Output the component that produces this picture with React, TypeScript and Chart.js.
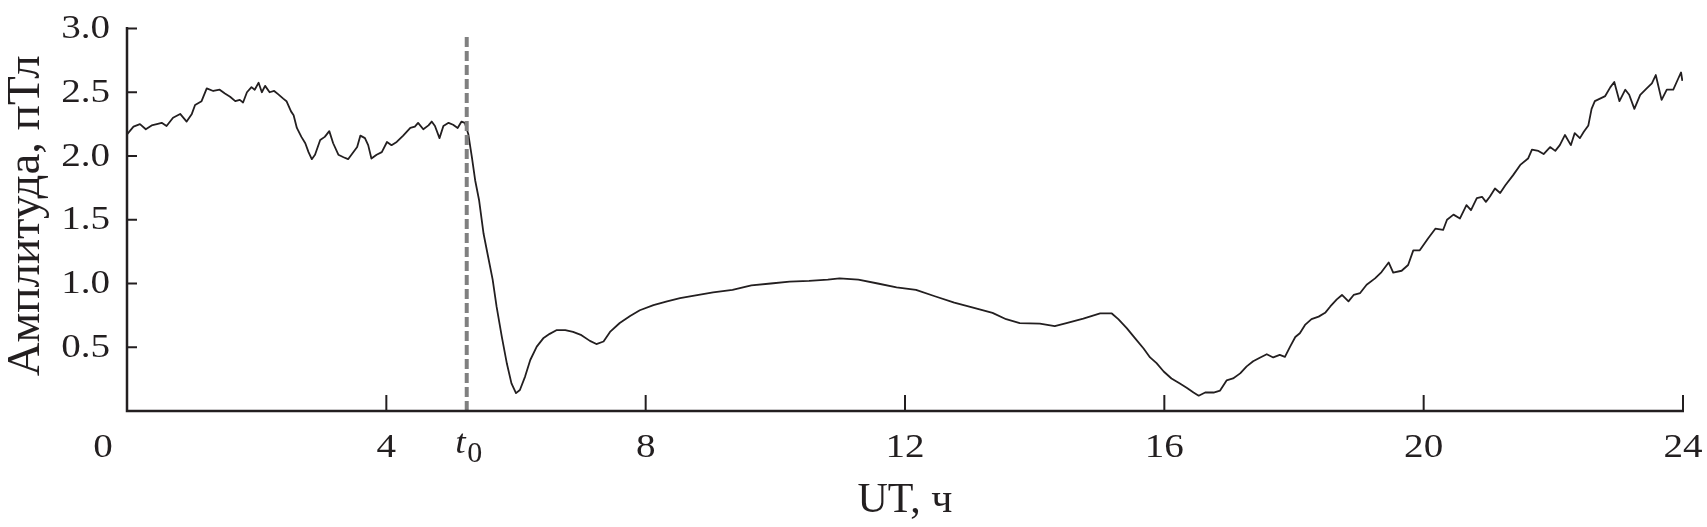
import React, { useEffect, useRef } from 'react';
import { Chart, registerables } from 'chart.js';

Chart.register(...registerables);

// ---- data ----
const hours = [
  0.0, 0.1, 0.2, 0.29, 0.38, 0.46, 0.535, 0.61, 0.71, 0.82, 0.92, 1.0, 1.05, 1.15, 1.23, 1.33, 1.43, 1.51, 1.59, 1.67,
  1.74, 1.79, 1.85, 1.92, 1.97, 2.03, 2.08, 2.13, 2.2, 2.27, 2.33, 2.41, 2.46, 2.53, 2.57, 2.62, 2.69, 2.75, 2.8, 2.85,
  2.9, 2.98, 3.05, 3.12, 3.18, 3.26, 3.34, 3.41, 3.49, 3.55, 3.6, 3.67, 3.72, 3.77, 3.85, 3.93, 4.01, 4.08, 4.16, 4.26,
  4.37, 4.44, 4.49, 4.57, 4.65, 4.7, 4.75, 4.82, 4.88, 4.96, 5.03, 5.1, 5.16, 5.21, 5.265, 5.32, 5.37, 5.43, 5.5, 5.57,
  5.64, 5.7, 5.78, 5.86, 5.93, 6.0, 6.06, 6.14, 6.22, 6.32, 6.42, 6.52, 6.63, 6.76, 6.88, 7.01, 7.14, 7.24, 7.35, 7.45,
  7.6, 7.76, 7.91, 8.12, 8.33, 8.53, 8.75, 9.04, 9.34, 9.63, 9.93, 10.22, 10.52, 10.81, 10.99, 11.28, 11.58, 11.87, 12.17, 12.46,
  12.76, 13.05, 13.35, 13.56, 13.77, 14.08, 14.31, 14.49, 14.75, 15.01, 15.19, 15.29, 15.42, 15.55, 15.68, 15.78, 15.88, 15.99, 16.11, 16.24,
  16.35, 16.45, 16.53, 16.63, 16.76, 16.86, 16.96, 17.06, 17.17, 17.27, 17.37, 17.48, 17.58, 17.68, 17.78, 17.86, 17.94, 18.02, 18.09, 18.17,
  18.27, 18.38, 18.48, 18.56, 18.66, 18.74, 18.84, 18.92, 19.02, 19.12, 19.25, 19.35, 19.46, 19.53, 19.66, 19.76, 19.84, 19.94, 20.07, 20.18,
  20.3, 20.36, 20.46, 20.56, 20.66, 20.73, 20.82, 20.9, 20.96, 21.02, 21.1, 21.18, 21.26, 21.38, 21.49, 21.61, 21.67, 21.77, 21.85, 21.95,
  22.03, 22.1, 22.18, 22.27, 22.33, 22.41, 22.47, 22.54, 22.59, 22.64, 22.72, 22.8, 22.88, 22.94, 23.02, 23.11, 23.17, 23.25, 23.34, 23.44,
  23.52, 23.58, 23.67, 23.75, 23.85, 23.92, 23.97, 23.99,
];

const amplitude = [
  2.17, 2.23, 2.25, 2.21, 2.24, 2.25, 2.26, 2.235, 2.3, 2.33, 2.27, 2.33, 2.4, 2.43, 2.53, 2.51, 2.52, 2.49, 2.465, 2.43,
  2.44, 2.42, 2.5, 2.54, 2.52, 2.575, 2.5, 2.55, 2.5, 2.51, 2.485, 2.45, 2.43, 2.35, 2.32, 2.22, 2.15, 2.1, 2.03, 1.975,
  2.01, 2.125, 2.15, 2.195, 2.1, 2.01, 1.99, 1.975, 2.03, 2.07, 2.16, 2.14, 2.085, 1.98, 2.01, 2.03, 2.11, 2.085, 2.11, 2.16,
  2.22, 2.23, 2.26, 2.21, 2.24, 2.27, 2.235, 2.14, 2.235, 2.26, 2.245, 2.22, 2.27, 2.26, 2.17, 1.99, 1.81, 1.655, 1.39, 1.21,
  1.03, 0.82, 0.585, 0.37, 0.217, 0.14, 0.165, 0.27, 0.4, 0.505, 0.57, 0.605, 0.635, 0.635, 0.62, 0.595, 0.55, 0.525, 0.545, 0.62,
  0.69, 0.745, 0.79, 0.83, 0.86, 0.885, 0.905, 0.93, 0.95, 0.985, 1.0, 1.015, 1.02, 1.03, 1.04, 1.03, 1.0, 0.97, 0.95, 0.9,
  0.85, 0.81, 0.77, 0.72, 0.69, 0.685, 0.665, 0.69, 0.725, 0.765, 0.765, 0.72, 0.65, 0.57, 0.49, 0.42, 0.375, 0.31, 0.255, 0.215,
  0.18, 0.145, 0.12, 0.145, 0.145, 0.16, 0.24, 0.255, 0.295, 0.35, 0.39, 0.42, 0.445, 0.42, 0.44, 0.425, 0.505, 0.58, 0.61, 0.675,
  0.72, 0.74, 0.77, 0.82, 0.875, 0.91, 0.86, 0.91, 0.925, 0.99, 1.04, 1.09, 1.165, 1.085, 1.1, 1.145, 1.26, 1.26, 1.355, 1.43,
  1.42, 1.5, 1.54, 1.51, 1.615, 1.575, 1.67, 1.68, 1.64, 1.68, 1.745, 1.71, 1.77, 1.85, 1.93, 1.98, 2.05, 2.04, 2.015, 2.07,
  2.04, 2.085, 2.165, 2.085, 2.18, 2.14, 2.19, 2.24, 2.37, 2.43, 2.45, 2.47, 2.54, 2.58, 2.43, 2.52, 2.48, 2.37, 2.48, 2.53,
  2.57, 2.635, 2.44, 2.52, 2.52, 2.6, 2.655, 2.59,
];

const t0Hour = 5.24;
const t0LineTop = 2.95;
const xTickValues = [0, 4, 8, 12, 16, 20, 24];
const xTickLabels = ['0', '4', '8', '12', '16', '20', '24'];
const yTickValues = [0.5, 1.0, 1.5, 2.0, 2.5, 3.0];
const yTickLabels = ['0.5', '1.0', '1.5', '2.0', '2.5', '3.0'];
const xTitle = 'UT, ч';
const yTitle = 'Амплитуда, пТл';
const t0Main = 't';
const t0Sub = '0';

const INK = '#231f20';
const SERIF = '"Liberation Serif", "Times New Roman", serif';

function drawText(
  ctx: CanvasRenderingContext2D,
  text: string,
  x: number,
  y: number,
  font: string,
  align: CanvasTextAlign,
  sx = 1,
) {
  ctx.save();
  ctx.translate(x, y);
  ctx.scale(sx, 1);
  ctx.font = font;
  ctx.textAlign = align;
  ctx.textBaseline = 'alphabetic';
  ctx.fillText(text, 0, 0);
  ctx.restore();
}

const axesPlugin = {
  id: 'paperAxes',
  afterDatasetsDraw(chart: any) {
    const { ctx } = chart;
    const xs = chart.scales.x;
    const ys = chart.scales.y;
    const xL = xs.getPixelForValue(0);
    const xR = xs.getPixelForValue(24);
    const yB = ys.getPixelForValue(0);
    const yT = ys.getPixelForValue(3);
    ctx.save();
    ctx.strokeStyle = INK;
    ctx.fillStyle = INK;
    ctx.lineCap = 'butt';
    ctx.lineJoin = 'miter';

    // axes
    ctx.lineWidth = 2.5;
    ctx.beginPath();
    ctx.moveTo(xL, yT - 1.5);
    ctx.lineTo(xL, yB);
    ctx.lineTo(xR + 1, yB);
    ctx.stroke();

    // y ticks (inward)
    ctx.lineWidth = 2;
    yTickValues.forEach((v) => {
      const py = ys.getPixelForValue(v);
      ctx.beginPath();
      ctx.moveTo(xL, py);
      ctx.lineTo(xL + 10, py);
      ctx.stroke();
    });
    // x ticks (inward)
    xTickValues.forEach((v) => {
      if (v === 0) return;
      const px = xs.getPixelForValue(v);
      ctx.beginPath();
      ctx.moveTo(px, yB);
      ctx.lineTo(px, yB - 16);
      ctx.stroke();
    });

    const tickFont = `34px ${SERIF}`;
    // y labels
    yTickValues.forEach((v, i) => {
      const py = ys.getPixelForValue(v);
      drawText(ctx, yTickLabels[i], xL - 17, py + 9.7, tickFont, 'right', 1.15);
    });
    // x labels
    xTickValues.forEach((v, i) => {
      let px = xs.getPixelForValue(v);
      if (v === 0) px -= 24;
      drawText(ctx, xTickLabels[i], px, yB + 46, tickFont, 'center', 1.15);
    });
    // t0 label
    const pt0 = xs.getPixelForValue(t0Hour);
    drawText(ctx, t0Main, pt0 - 1, yB + 42, `italic 34px ${SERIF}`, 'right', 1.1);
    drawText(ctx, t0Sub, pt0 + 0.5, yB + 51, `30px ${SERIF}`, 'left', 1.0);

    // axis titles
    drawText(ctx, xTitle, (xL + xR) / 2, yB + 101, `42px ${SERIF}`, 'center', 1);
    ctx.save();
    ctx.translate(39, (yT + yB) / 2 - 4);
    ctx.rotate(-Math.PI / 2);
    ctx.font = `47px ${SERIF}`;
    ctx.textAlign = 'center';
    ctx.textBaseline = 'alphabetic';
    ctx.fillText(yTitle, 0, 0);
    ctx.restore();

    ctx.restore();
  },
};

export default function App() {
  const canvasRef = useRef<HTMLCanvasElement | null>(null);

  useEffect(() => {
    const canvas = canvasRef.current;
    if (!canvas) return;
    const curve = hours.map((h, i) => ({ x: h, y: amplitude[i] }));
    const t0Line = [
      { x: t0Hour, y: 0 },
      { x: t0Hour, y: t0LineTop },
    ];
    const chart = new Chart(canvas, {
      type: 'line',
      data: {
        datasets: [
          {
            data: curve,
            borderColor: INK,
            borderWidth: 1.8,
            pointRadius: 0,
            tension: 0,
            fill: false,
            order: 1,
          },
          {
            data: t0Line,
            borderColor: '#808080',
            borderWidth: 4,
            borderDash: [10, 4],
            pointRadius: 0,
            fill: false,
            order: 0,
          },
        ],
      },
      options: {
        animation: false,
        responsive: false,
        devicePixelRatio: 1,
        layout: { padding: { left: 127, right: 24, top: 28.5, bottom: 116 } },
        plugins: { legend: { display: false }, tooltip: { enabled: false }, title: { display: false } },
        scales: {
          x: { type: 'linear', min: 0, max: 24, display: false },
          y: { type: 'linear', min: 0, max: 3, display: false },
        },
        elements: { line: { borderJoinStyle: 'round' } },
      },
      plugins: [axesPlugin],
    });
    return () => chart.destroy();
  }, []);

  return (
    <div style={{ position: 'fixed', left: 0, top: 0, width: 1707, height: 527, background: '#fff' }}>
      <canvas ref={canvasRef} width={1707} height={527} style={{ display: 'block' }} />
    </div>
  );
}
